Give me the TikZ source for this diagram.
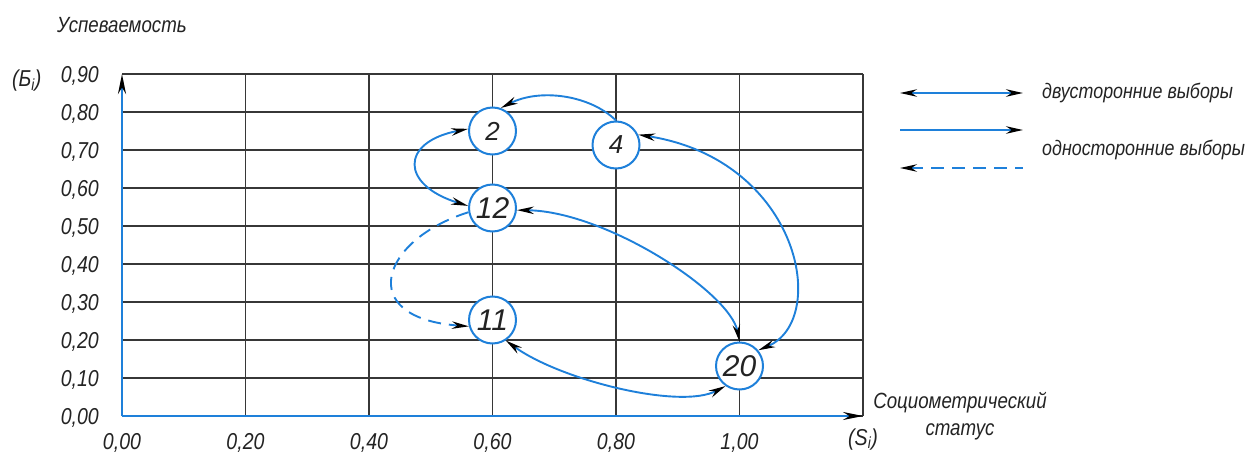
\documentclass[tikz,border=0pt]{standalone}
\usepackage{fontspec}
\setmainfont{Liberation Sans}
\newfontfamily\gost[FakeStretch=0.85]{Liberation Sans}
\newfontfamily\gostw{Liberation Sans}
\usetikzlibrary{arrows.meta}
\definecolor{lineblue}{RGB}{30,128,218}
\definecolor{gridc}{RGB}{55,55,55}
\definecolor{txt}{RGB}{35,35,35}
\begin{document}
\begin{tikzpicture}[x=1pt,y=-1pt,
  >={Stealth[length=17pt,width=7.5pt,color=black]},
  gridline/.style={draw=gridc, line width=1.1pt},
  axisline/.style={draw=lineblue, line width=2.4pt, -{Stealth[length=20pt,width=8pt,color=black]}},
  conn/.style={draw=lineblue, line width=1.9pt},
  dashconn/.style={conn, dash pattern=on 13pt off 8pt},
  pnode/.style={circle, draw=lineblue, line width=2pt, fill=white, minimum size=47pt, inner sep=0pt, text=txt, font=\gostw\itshape\fontsize{30}{30}\selectfont},
  pnodes/.style={pnode, font=\gostw\itshape\fontsize{26}{26}\selectfont},
  lab/.style={inner sep=0pt, text=txt, font=\gost\itshape\fontsize{23}{25}\selectfont},
  ttl/.style={inner sep=0pt, text=txt, font=\gost\itshape\fontsize{22}{24}\selectfont},
  leg/.style={inner sep=0pt, text=txt, font=\gost\itshape\fontsize{21}{24}\selectfont}
]
\useasboundingbox (0,0) rectangle (1253,452);
% grid
\foreach \i in {0,...,9} \draw[gridline] (122,416-38*\i) -- (863,416-38*\i);
\foreach \i in {1,...,6} \draw[gridline] (122+123.5*\i,74) -- (122+123.5*\i,416);
% axes
\coordinate (o) at (122,416);
\coordinate (ytop) at (122,74);
\coordinate (xend) at (863,416);
\draw[axisline] (o) -- (ytop);
\draw[axisline] (o) -- (xend);
% y labels
\foreach \v/\t in {0/{0,00},1/{0,10},2/{0,20},3/{0,30},4/{0,40},5/{0,50},6/{0,60},7/{0,70},8/{0,80},9/{0,90}}
  \node[lab, anchor=base east] (yl\v) at (99,416-38*\v+8.5) {\t};
% x labels
\foreach \v/\t in {0/{0,00},1/{0,20},2/{0,40},3/{0,60},4/{0,80},5/{1,00}}
  \node[lab, anchor=base] (xl\v) at (122+123.5*\v,449) {\t};
\node[lab, anchor=base] (sl) at (863,445) {(S\textsubscript{i})};
\node[lab, anchor=base west] (bl) at (12,87) {(Б\textsubscript{i})};
\node[ttl, anchor=base west] (ytitle) at (57,33) {Успеваемость};
\node[ttl, anchor=base] (xt1) at (960,408) {Социометрический};
\node[ttl, anchor=base] (xt2) at (960,435) {статус};
% nodes
\node[pnodes] (n2) at (492.5,131) {2};
\node[pnodes] (n4) at (616,145) {4};
\node[pnode] (n12) at (492.5,208) {12};
\node[pnode] (n11) at (492.5,320) {11};
\node[pnode] (n20) at (739.5,366) {20};
% connectors
\draw[conn,->] (n4.90) .. controls (590,95) and (540,88) .. (n2.70);
\draw[conn,<->] (n2.175) .. controls (400,142) and (400,185) .. (n12.175);
\draw[conn,<->] (n4.25) .. controls (800,160) and (830,320) .. (n20.40);
\draw[conn,<->] (n12.-5) .. controls (605,211) and (730,292) .. (n20.90);
\draw[conn,<->] (n11.-57) .. controls (560,380) and (680,410) .. (n20.-125);
\draw[dashconn,->] (n12.190) .. controls (380,240) and (355,318) .. (n11.195);
% legend
\coordinate (la1) at (900,93); \coordinate (lb1) at (1023,93);
\coordinate (la2) at (900,130); \coordinate (lb2) at (1023,130);
\coordinate (la3) at (900,168); \coordinate (lb3) at (1023,168);
\draw[conn,<->] (la1) -- (lb1);
\draw[conn,->] (la2) -- (lb2);
\draw[dashconn,<-] (la3) -- (lb3);
\node[leg, anchor=base west] (lt1) at (1042,99) {двусторонние выборы};
\node[leg, anchor=base west] (lt2) at (1042,155) {односторонние выборы};
\end{tikzpicture}
\end{document}
